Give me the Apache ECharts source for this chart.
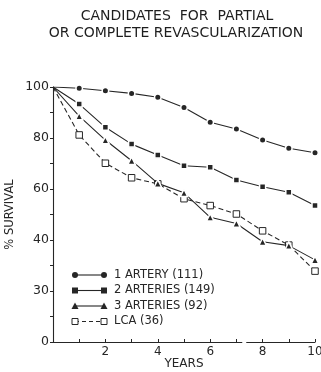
<!DOCTYPE html>
<html>
<head>
<meta charset="utf-8">
<script src="https://cdn.jsdelivr.net/npm/echarts@6/dist/echarts.min.js"></script>
<style>
  html, body { margin: 0; padding: 0; background: #fff; }
  #chart { width: 321px; height: 372px; }
</style>
</head>
<body>
<div id="chart"></div>
<script>
// Survival (%) by years after study entry
const years = [0, 1, 2, 3, 4, 5, 6, 7, 8, 9, 10];
const oneArtery = [100, 99.5, 98.5, 97.5, 96, 92, 86.2, 83.5, 79.2, 76, 74.2];
const twoArteries = [100, 93.3, 84.2, 77.6, 73.3, 69.1, 68.5, 63.5, 60.9, 58.7, 53.5];
const threeArteries = [100, 88.6, 79.2, 71.1, 62.2, 58.5, 48.9, 46.5, 39.3, 37.8, 32.2];
const lca = [100, 81.2, 70.1, 64.4, 62, 56.2, 53.5, 50.2, 43.6, 38, 27.8];

const seriesNames = ['1 ARTERY (111)', '2 ARTERIES (149)', '3 ARTERIES (92)', 'LCA (36)'];

// y tick values and the text printed at each
const yTickValues = [0, 20, 40, 60, 80, 100];
const yTickLabels = ['0', '30', '40', '60', '80', '100'];
const xTickLabels = { 2: '2', 4: '4', 6: '6', 8: '8', 10: '10' };

const INK = '#262626';
const FONT = '"DejaVu Sans", sans-serif';

const styles = [
  { symbol: 'circle', size: 6.5, fill: INK, dashed: false },
  { symbol: 'rect', size: 6, fill: INK, dashed: false },
  { symbol: 'triangle', size: 7.5, fill: INK, dashed: false },
  { symbol: 'rect', size: 6.5, fill: '#fff', dashed: true }
];
const seriesValues = [oneArtery, twoArteries, threeArteries, lca];

const chart = echarts.init(document.getElementById('chart'), null, { renderer: 'canvas' });

function makeSeries(i) {
  const st = styles[i];
  return {
    name: seriesNames[i],
    type: 'line',
    symbol: st.symbol,
    symbolSize: st.size,
    showAllSymbol: true,
    z: 10 - i,
    lineStyle: { color: INK, width: 1.1, type: st.dashed ? [5, 3] : 'solid' },
    itemStyle: {
      color: st.fill,
      borderColor: st.fill === '#fff' ? INK : '#fff',
      borderWidth: st.fill === '#fff' ? 1 : 1.5
    },
    emphasis: { disabled: true },
    data: years.map((x, k) => k === 0
      ? { value: [x, seriesValues[i][k]], symbol: 'none' }
      : [x, seriesValues[i][k]])
  };
}

// Legend drawn as symbol — line — symbol rows
function legendGraphics() {
  const items = [];
  const x0 = 75, x1 = 104, tx = 114, y0 = 275, dy = 15.5;
  styles.forEach((st, i) => {
    const y = y0 + i * dy;
    items.push({
      type: 'line',
      shape: { x1: x0, y1: y, x2: x1, y2: y },
      style: { stroke: INK, lineWidth: 1.1, lineDash: st.dashed ? [4, 3] : null },
      z: 50
    });
    [x0, x1].forEach(cx => {
      if (st.symbol === 'circle') {
        items.push({ type: 'circle', shape: { cx: cx, cy: y, r: 3 }, style: { fill: INK }, z: 51 });
      } else if (st.symbol === 'triangle') {
        items.push({ type: 'polygon', shape: { points: [[cx, y - 3.5], [cx + 3.5, y + 3], [cx - 3.5, y + 3]] }, style: { fill: INK }, z: 51 });
      } else {
        items.push({
          type: 'rect', shape: { x: cx - 3, y: y - 3, width: 6, height: 6 },
          style: { fill: st.fill, stroke: st.fill === '#fff' ? INK : null, lineWidth: 1 }, z: 51
        });
      }
    });
    items.push({
      type: 'text', x: tx, y: y,
      style: { text: seriesNames[i], font: '11.5px ' + FONT, fill: INK, verticalAlign: 'middle' },
      z: 50
    });
  });
  return items;
}

const option = {
  animation: false,
  backgroundColor: '#fff',
  grid: { left: 53, right: 6, top: 87, bottom: 30, containLabel: false, outerBoundsMode: 'none' },
  xAxis: {
    type: 'value', min: 0, max: 10, interval: 1,
    name: 'YEARS', nameLocation: 'middle', nameGap: 16, nameMoveOverlap: false,
    nameTextStyle: { color: INK, fontFamily: FONT, fontSize: 12 },
    axisLine: { show: true, lineStyle: { color: INK, width: 1.1 } },
    axisTick: { show: true, inside: true, length: 3, lineStyle: { color: INK, width: 1 } },
    axisLabel: {
      color: INK, fontFamily: FONT, fontSize: 12, margin: 4,
      formatter: v => xTickLabels[v] || ''
    },
    splitLine: { show: false }
  },
  yAxis: {
    type: 'value', min: 0, max: 100, interval: 10,
    name: '% SURVIVAL', nameLocation: 'middle', nameGap: 37, nameRotate: 90, nameMoveOverlap: false,
    nameTextStyle: { color: INK, fontFamily: FONT, fontSize: 11.5 },
    axisLine: { show: true, lineStyle: { color: INK, width: 1.1 } },
    axisTick: { show: true, inside: false, length: 3, lineStyle: { color: INK, width: 1 } },
    axisLabel: {
      color: INK, fontFamily: FONT, fontSize: 12.5, margin: 4,
      formatter: v => {
        const k = yTickValues.indexOf(v);
        return k >= 0 ? yTickLabels[k] : '';
      }
    },
    splitLine: { show: false }
  },
  graphic: [
    {
      type: 'text', x: 177, y: 16,
      style: { text: 'CANDIDATES  FOR  PARTIAL', font: '500 14px ' + FONT, fill: '#1e1e1e', align: 'center', verticalAlign: 'middle' }
    },
    {
      type: 'text', x: 176, y: 33,
      style: { text: 'OR COMPLETE REVASCULARIZATION', font: '500 14px ' + FONT, fill: '#1e1e1e', align: 'center', verticalAlign: 'middle' }
    }
  ].concat(legendGraphics()),
  series: [0, 1, 2, 3].map(makeSeries)
};

chart.setOption(option);

// small break in the x axis line between years 7 and 8
const bx = chart.convertToPixel({ gridIndex: 0 }, [7.3, 0]);
chart.setOption({
  graphic: option.graphic.concat([{
    type: 'rect', shape: { x: bx[0] - 2, y: bx[1] - 1.5, width: 4, height: 3 },
    style: { fill: '#fff' }, z: 60
  }])
});
</script>
</body>
</html>
